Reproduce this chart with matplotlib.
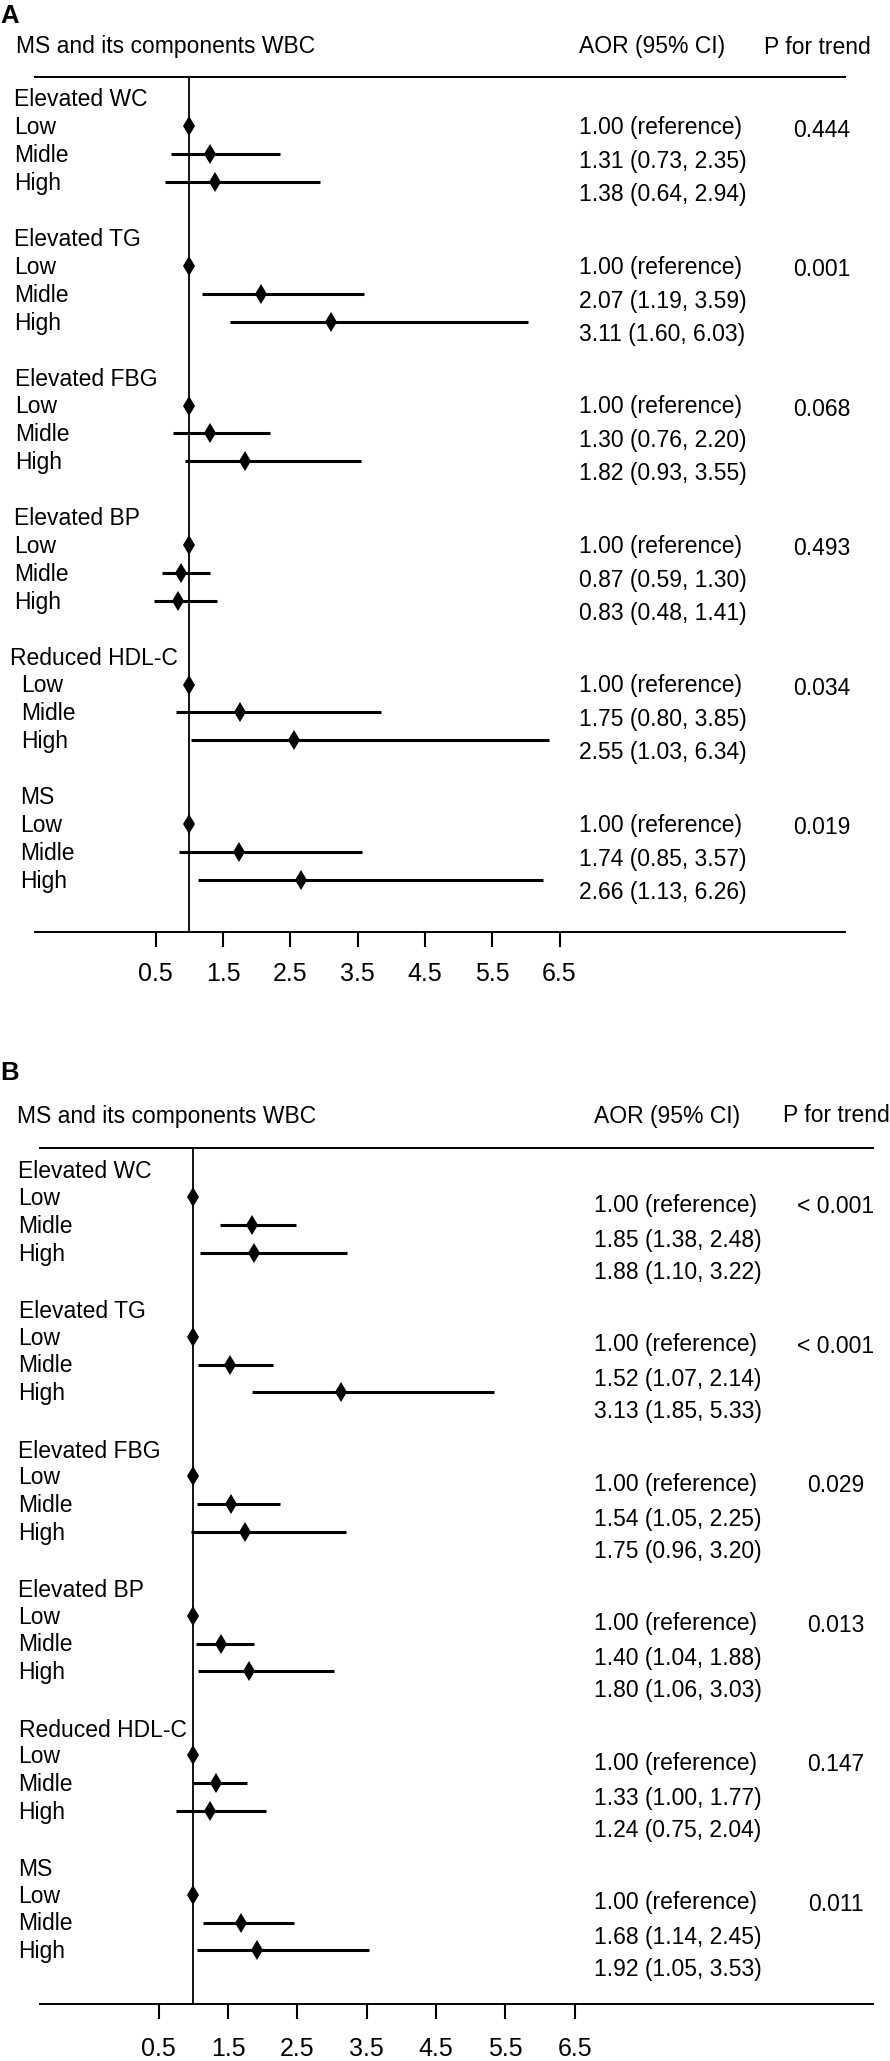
import matplotlib
matplotlib.use('Agg')
import matplotlib.pyplot as plt
import matplotlib.transforms as mtransforms

plt.rcParams['font.family'] = ['Liberation Sans', 'DejaVu Sans']

# data
groups = ['Elevated WC', 'Elevated TG', 'Elevated FBG', 'Elevated BP', 'Reduced HDL-C', 'MS']
levels = ['Low', 'Midle', 'High']
ticks = [0.5, 1.5, 2.5, 3.5, 4.5, 5.5, 6.5]

# panel A, Midle and High (Low = 1.00 reference)
a_aor = [[1.31, 1.38], [2.07, 3.11], [1.30, 1.82], [0.87, 0.83], [1.75, 2.55], [1.74, 2.66]]
a_lo = [[0.73, 0.64], [1.19, 1.60], [0.76, 0.93], [0.59, 0.48], [0.80, 1.03], [0.85, 1.13]]
a_hi = [[2.35, 2.94], [3.59, 6.03], [2.20, 3.55], [1.30, 1.41], [3.85, 6.34], [3.57, 6.26]]
a_p = ['0.444', '0.001', '0.068', '0.493', '0.034', '0.019']

# panel B
b_aor = [[1.85, 1.88], [1.52, 3.13], [1.54, 1.75], [1.40, 1.80], [1.33, 1.24], [1.68, 1.92]]
b_lo = [[1.38, 1.10], [1.07, 1.85], [1.05, 0.96], [1.04, 1.06], [1.00, 0.75], [1.14, 1.05]]
b_hi = [[2.48, 3.22], [2.14, 5.33], [2.25, 3.20], [1.88, 3.03], [1.77, 2.04], [2.45, 3.53]]
b_p = ['< 0.001', '< 0.001', '0.029', '0.013', '0.147', '0.011']

W, H = 890, 2061
fig = plt.figure(figsize=(W / 100, H / 100), dpi=100)

FS = 16.5


def draw_panel(letter, aor, lo, hi, pvals, lay):
    x0, x1 = lay['x0'], lay['x1']
    ytop, yax = lay['ytop'], lay['yax']
    ax = fig.add_axes([x0 / W, 1 - yax / H, (x1 - x0) / W, (yax - ytop) / H])
    ax.set_xlim(lay['xlim'])
    ax.set_ylim(lay['ylim'])
    for s in ['left', 'right']:
        ax.spines[s].set_visible(False)
    for s in ['top', 'bottom']:
        ax.spines[s].set_linewidth(1.4)
    ax.set_yticks([])
    ax.set_xticks(ticks)
    ax.set_xticklabels([str(t) for t in ticks])
    ax.tick_params(axis='x', length=10.5, width=1.5, pad=lay['pad'], labelsize=18)
    ax.axvline(1.0, color='black', lw=1.3)

    tr = mtransforms.blended_transform_factory(fig.transFigure, ax.transData)

    for g, name in enumerate(groups):
        base = g * 5
        ax.text(lay['hx'][g] / W, base, name, transform=tr, fontsize=FS,
                va='center', ha='left')
        ors = [1.0] + aor[g]
        los = [1.0] + lo[g]
        his = [1.0] + hi[g]
        for i, lev in enumerate(levels):
            y = base + lay['mk'][i]
            ax.text(lay['rx'][g] / W, y + 0.05, lev, transform=tr, fontsize=FS,
                    va='center', ha='left')
            if i > 0:
                ax.hlines(y, los[i], his[i], color='black', lw=2.2)
            ax.plot(ors[i], y, marker='d', color='black', ms=10, mew=0)
            if i == 0:
                lab = '1.00 (reference)'
            else:
                lab = f'{ors[i]:.2f} ({los[i]:.2f}, {his[i]:.2f})'
            ax.text(lay['vx'] / W, base + lay['vy'][i], lab, transform=tr,
                    fontsize=FS, va='center', ha='left')
        ax.text(lay['px'] / W, base + lay['py'], pvals[g], transform=tr,
                fontsize=FS, va='center', ha='center')

    fig.text(0 / W, 1 - lay['ly'] / H, letter, fontsize=18.5, fontweight='bold',
             va='center', ha='left')
    hy = 1 - lay['hy'] / H
    fig.text(lay['hx0'] / W, hy, 'MS and its components WBC', fontsize=FS,
             va='center', ha='left')
    fig.text(lay['vx'] / W, hy, 'AOR (95% CI)', fontsize=FS, va='center', ha='left')
    fig.text(lay['ptx'] / W, hy, 'P for trend', fontsize=FS, va='center', ha='left')
    return ax


lay_a = dict(x0=35.4, x1=844.8, ytop=77, yax=932,
             xlim=(-1.2875, 10.739), ylim=(29.82, -0.824), pad=11,
             hx=[14, 14, 15, 14, 10, 20], rx=[14, 14, 15, 14, 21, 20],
             mk=[0.95, 1.95, 2.95], vy=[1.0, 2.22, 3.4], py=1.08,
             vx=579, px=822, ly=16, hy=47, hx0=16, ptx=764)

lay_b = dict(x0=40, x1=873, ytop=1148, yax=2004,
             xlim=(-1.213, 10.80), ylim=(29.82, -0.86), pad=13,
             hx=[18, 19, 18, 18, 19, 18], rx=[18, 18, 18, 18, 18, 18],
             mk=[0.9, 1.9, 2.9], vy=[1.2, 2.44, 3.6], py=1.25,
             vx=594, px=836, ly=1073, hy=1116, hx0=17, ptx=783)

draw_panel('A', a_aor, a_lo, a_hi, a_p, lay_a)
draw_panel('B', b_aor, b_lo, b_hi, b_p, lay_b)

fig.savefig('out.png', dpi=100, facecolor='white')
